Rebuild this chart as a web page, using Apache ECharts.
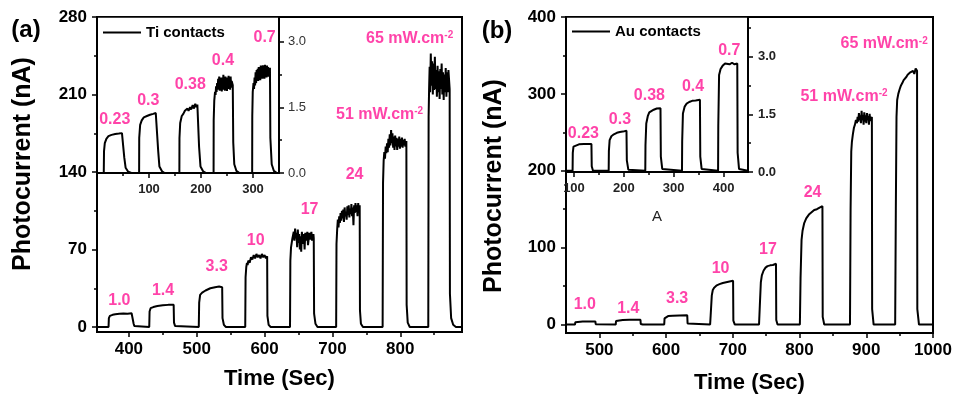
<!DOCTYPE html>
<html>
<head>
<meta charset="utf-8">
<script src="https://cdn.jsdelivr.net/npm/echarts@6.0.0/dist/echarts.min.js"></script>
<style>
  html, body { margin: 0; padding: 0; background: #fff; }
  #chart { width: 958px; height: 399px; }
</style>
</head>
<body>
<div id="chart"></div>
<script>
// (a) Ti contacts, main trace: [time (s), photocurrent (nA)]
const tiMain = [
  [353,0],[370,0],[370.5,8],[372,10],[376,11],[380,11.5],[386,12],[392,12.3],[398,12],[404,12.4],[406.5,12.2],[407,3],[408,1],[410,0],
  [430,0],[430.5,14],[432,17],[436,18],[442,19],[450,19.6],[458,20],[466,20.2],[466.5,4],[468,1],[470,0],
  [503,0],[503.6,22],[505,29],[508,31],[513,33],[520,35],[527,36],[533,36.5],[537.5,36],[538,8],[540,2],[543,0],
  [571.5,0],[572,45],[573,54],[574,58],[575,56],[576,60],[578,58],[580,63],[582,61],[584,65],[586,62],[588,66],[590,63],[592,65],[594,62],[596,66],[598,63],[600,65],[602,62],[603.8,64],[604.2,10],[606,2],[609,0],
  [637.5,0],[638,60],[639,72],[641,80],[643,86],[644,78],[645,89],[646,80],[647,85],[648,72],[649,88],[650,76],[651,84],[652,70],[653,82],[654,68],[655,86],[656,75],[658,84],[659,70],[660,85],[662,78],[663,86],[664,74],[666,85],[667,79],[669,86],[670,78],[672,84],[672.5,80],[673,12],[675,3],[678,0],
  [705.5,0],[706,75],[707,88],[708,97],[709,90],[710,100],[711,94],[712,103],[713,96],[714,105],[715,98],[716,106],[717,95],[718,108],[719,100],[720,104],[721,97],[722,109],[723,101],[724,110],[725,99],[726,107],[727,102],[728,111],[729,100],[730,108],[731,92],[732,110],[733,103],[734,112],[735,104],[736,110],[737,100],[738,112],[739,105],[740.2,110],[740.6,15],[742,3],[745,0],
  [774,0],[774.6,130],[775.5,150],[776.5,158],[777.5,152],[778.5,163],[779.5,157],[780.5,166],[781.5,158],[782.5,170],[783.5,162],[784.5,174],[785.5,164],[786.5,178],[787.5,166],[788.5,175],[789.5,162],[790.5,172],[791.5,160],[792.5,173],[793.5,163],[794.5,171],[795.5,160],[796.5,170],[797.5,163],[798.5,172],[799.5,161],[800.5,170],[801.5,163],[802.5,171],[803.5,162],[804.5,169],[805.5,164],[806.5,170],[807.5,163],[809,168],[809.4,20],[811,4],[814,0],
  [841.3,0],[841.8,190],[842.5,215],[843.3,235],[844,212],[845,247],[846,218],[847,240],[848,210],[849,238],[850,214],[851,244],[852,215],[853,232],[854,208],[855,236],[856,212],[857,231],[858,206],[859,233],[860,215],[861,238],[862,210],[863,230],[864,205],[865,228],[866,212],[867,234],[868,208],[869,230],[870,212],[871,232],[872.8,215],[873.2,30],[875,8],[878,2],[882,0],[891,0]
];

// (a) inset trace: [time (s), photocurrent (nA)]
const tiInset = [
  [0,0],[13,0],[13.5,0.5],[15,0.68],[18,0.78],[22,0.84],[28,0.87],[35,0.89],[42,0.9],[48,0.91],[51.6,0.92],[52.5,0.35],[55,0.12],[60,0.03],[66,0],
  [81,0],[81.2,0.8],[83,1.1],[86,1.2],[90,1.27],[96,1.3],[102,1.33],[108,1.35],[113,1.37],[116.8,1.38],[117.7,0.5],[120,0.15],[125,0.04],[130,0],
  [158.4,0],[158.6,0.8],[160,1.14],[163,1.3],[166,1.35],[169,1.42],[171,1.38],[174,1.47],[176,1.42],[179,1.5],[181,1.45],[184,1.55],[186,1.47],[189,1.58],[191,1.5],[193,1.56],[195.4,1.52],[196.3,0.6],[199,0.15],[204,0.04],[210,0],
  [224.2,0],[224.4,1.2],[225.5,1.65],[227,1.85],[228,1.78],[229,1.98],[230,1.85],[231,2.05],[232,1.9],[233,2.15],[234,1.92],[235,2.2],[236,1.88],[237,2.1],[238,1.9],[239,2.18],[240,1.86],[241,2.12],[242,1.9],[243,2.24],[244,1.95],[245,2.15],[246,1.88],[247,2.2],[248,1.92],[249,2.1],[250,1.87],[251,2.18],[252,1.92],[253,2.22],[254,1.95],[255,2.12],[256,1.9],[257,2.2],[258,1.95],[259,2.1],[261.1,2.0],[262,0.7],[264,0.2],[268,0.05],[274,0],
  [298.4,0],[298.6,1.3],[299.5,1.85],[301,2.05],[302,1.92],[303,2.18],[304,2.0],[305,2.3],[306,2.05],[307,2.35],[308,2.12],[309,2.38],[310,2.1],[311,2.42],[312,2.15],[313,2.38],[314,2.12],[315,2.45],[316,2.18],[317,2.42],[318,2.15],[319,2.46],[320,2.2],[321,2.42],[322,2.15],[323,2.47],[324,2.2],[325,2.44],[326,2.18],[327,2.45],[328,2.22],[329,2.42],[330,2.2],[332.6,2.4],[333.4,0.8],[336,0.2],[340,0.05],[346,0],[350,0]
];

// (b) Au contacts, main trace
const auMain = [
  [450,0],[463.5,0],[464,3],[466,3.7],[475,3.9],[485,4],[494,4],[494.5,0.5],[497,0],
  [524.5,0],[525,4.5],[527,5.4],[535,5.9],[545,6.1],[555,6.2],[561.6,6.2],[562,0.8],[565,0],
  [597.2,0],[597.7,8],[599,10],[603,11],[610,11.5],[620,11.8],[631.7,12],[632.2,1.5],[635,0],
  [666,0],[667,15],[668.5,38],[670,45],[672,48],[676,51],[680,52.5],[685,54],[690,55],[695,56],[700.4,57],[700.8,5],[703,0],
  [739.3,0],[740.5,25],[742,55],[743.5,64],[746,70],[749,74],[752,76],[756,77],[760,77.5],[764.7,79],[765.1,6],[767,0],
  [800.5,0],[801.5,60],[803,110],[804.5,122],[807,132],[810,138],[814,143],[818,146],[822,149],[826,150],[830,152],[834.3,154],[834.7,10],[837,0],
  [875.6,0],[876.5,150],[877.5,225],[878.5,238],[880,248],[881.5,256],[883,260],[884.5,266],[886,262],[887,270],[888,264],[889,275],[890,266],[891,272],[892,262],[893,278],[894,266],[895,272],[896,260],[897,276],[898,264],[899,272],[900,262],[901,275],[902,266],[903,271],[904,260],[905,274],[906,265],[908.4,270],[908.8,20],[911,0],
  [943.3,0],[944.3,150],[945.3,270],[946.3,292],[948,300],[950,306],[952,311],[954,314],[956,318],[958,320],[960,322],[962,325],[964,324],[966,328],[968,327],[970,330],[972,326],[974,333],[976.1,330],[976.5,20],[979,0],[1000,0]
];

// (b) inset trace
const auInset = [
  [84,0.03],[97.2,0.03],[97.6,0.5],[99,0.66],[103,0.7],[110,0.72],[120,0.73],[130,0.73],[135,0.73],[135.6,0.15],[138,0.04],
  [169.6,0.03],[170,0.55],[171.5,0.83],[175,0.93],[180,0.98],[186,1.02],[192,1.04],[198,1.05],[205.3,1.07],[206,0.3],[209,0.06],[213,0.03],
  [243,0.03],[243.4,0.7],[245,1.26],[248,1.45],[251,1.55],[255,1.6],[260,1.62],[266,1.65],[273.5,1.66],[274.2,0.4],[277,0.08],[281,0.03],
  [316.6,0.03],[317,0.8],[318.5,1.52],[322,1.7],[326,1.78],[331,1.82],[337,1.85],[344,1.86],[352.6,1.88],[353.3,0.4],[356,0.08],[360,0.03],
  [389,0.03],[389.4,1.2],[391,2.52],[394,2.68],[398,2.76],[403,2.82],[407,2.86],[412,2.8],[417,2.84],[422,2.8],[427.5,2.82],[428.2,0.5],[431,0.08],[435,0.03],[449,0.03]
];

// intensity annotations: [time, value, text]
const tiMainNotes = [[386,23.5,'1.0'],[450.4,32.7,'1.4'],[529.4,54.8,'3.3'],[587,77.9,'10'],[666.4,106.4,'17'],[732.7,137.3,'24'],[769.5,192,'51 mW.cm-2'],[813.8,260.4,'65 mW.cm-2']];
const tiInsetNotes = [[34.2,1.22,'0.23'],[98.6,1.65,'0.3'],[179.3,2.01,'0.38'],[242.2,2.57,'0.4'],[322.4,3.08,'0.7']];
const auMainNotes = [[478.2,25.4,'1.0'],[543.3,21.1,'1.4'],[616.5,33.5,'3.3'],[681.7,73.3,'10'],[752.6,96.9,'17'],[819.5,171.8,'24'],[866.6,297,'51 mW.cm-2'],[926.8,364.8,'65 mW.cm-2']];
const auInsetNotes = [[118.9,1.01,'0.23'],[192.2,1.36,'0.3'],[251.2,1.99,'0.38'],[338.8,2.23,'0.4'],[411.4,3.15,'0.7']];

// ticks
const tiMainXTicks = [400,500,600,700,800];
const tiMainXMinor = [450,550,650,750,850];
const tiMainYTicks = [0,70,140,210,280];
const tiMainYMinor = [35,105,175,245];
const tiInsetXTicks = [100,200,300];
const tiInsetXMinor = [50,150,250];
const tiInsetYTicks = [0,1.5,3];
const tiInsetYMinor = [0.75,2.25];
const auMainXTicks = [500,600,700,800,900,1000];
const auMainXMinor = [550,650,750,850,950];
const auMainYTicks = [0,100,200,300,400];
const auMainYMinor = [50,150,250,350];
const auInsetXTicks = [100,200,300,400];
const auInsetXMinor = [150,250,350];
const auInsetYTicks = [0,1.5,3];
const auInsetYMinor = [0.75,2.25,3.75];

const FONT = '"Liberation Sans", Arial, sans-serif';
const PINK = '#ff1493';

const chart = echarts.init(document.getElementById('chart'), null, { renderer: 'canvas' });

const plain = (v) => String(v);
const fmt1 = (v) => v.toFixed(1);

function majorAxis(grid, min, max, ticks, position, label) {
  return {
    type: 'value', gridIndex: grid, min: min, max: max, position: position,
    axisLine: { show: true, onZero: false, lineStyle: { color: '#000', width: 2 } },
    axisTick: { show: true, customValues: ticks, length: 5, lineStyle: { color: '#000', width: 1.5 } },
    axisLabel: Object.assign({ customValues: ticks, fontFamily: FONT, hideOverlap: false, formatter: plain }, label),
    splitLine: { show: false }
  };
}
function minorAxis(grid, min, max, ticks, position) {
  return {
    type: 'value', gridIndex: grid, min: min, max: max, position: position,
    axisLine: { show: false, onZero: false },
    axisTick: { show: true, customValues: ticks, length: 3, lineStyle: { color: '#000', width: 1.5 } },
    axisLabel: { show: false },
    splitLine: { show: false }
  };
}

const mainLabel = { fontSize: 17, fontWeight: 'bold', color: '#000', margin: 9 };
const insetXLabel = { fontSize: 13, fontWeight: 'bold', color: '#222', margin: 10 };

const xName = (gap) => ({
  name: 'Time (Sec)', nameLocation: 'middle', nameGap: gap,
  nameTextStyle: { fontSize: 22, fontWeight: 'bold', color: '#000', fontFamily: FONT }
});

const xAxis = [
  Object.assign(majorAxis(0, 353, 891, tiMainXTicks, 'bottom', mainLabel), xName(36)),
  minorAxis(0, 353, 891, tiMainXMinor, 'bottom'),
  majorAxis(1, 0, 350, tiInsetXTicks, 'bottom', insetXLabel),
  minorAxis(1, 0, 350, tiInsetXMinor, 'bottom'),
  Object.assign(majorAxis(2, 450, 1000, auMainXTicks, 'bottom', mainLabel), xName(39)),
  minorAxis(2, 450, 1000, auMainXMinor, 'bottom'),
  majorAxis(3, 84, 449, auInsetXTicks, 'bottom', insetXLabel),
  minorAxis(3, 84, 449, auInsetXMinor, 'bottom')
];

const yAxis = [
  majorAxis(0, -4.5, 280, tiMainYTicks, 'left', Object.assign({}, mainLabel, { margin: 10 })),
  minorAxis(0, -4.5, 280, tiMainYMinor, 'left'),
  majorAxis(1, 0, 3.56, tiInsetYTicks, 'right', { fontSize: 13, color: '#333', margin: 9, formatter: fmt1 }),
  minorAxis(1, 0, 3.56, tiInsetYMinor, 'right'),
  majorAxis(2, -11, 400, auMainYTicks, 'left', Object.assign({}, mainLabel, { margin: 10 })),
  minorAxis(2, -11, 400, auMainYMinor, 'left'),
  majorAxis(3, 0, 4.03, auInsetYTicks, 'right', { fontSize: 13, fontWeight: 'bold', color: '#222', margin: 10, formatter: fmt1 }),
  minorAxis(3, 0, 4.03, auInsetYMinor, 'right')
];

const grid = [
  { left: 97, top: 17, width: 365, height: 315, show: true, borderColor: '#000', borderWidth: 2, backgroundColor: 'transparent' },
  { left: 97, top: 17, width: 182, height: 156, show: true, borderColor: '#000', borderWidth: 1.5, backgroundColor: '#fff' },
  { left: 566, top: 17, width: 367, height: 316, show: true, borderColor: '#000', borderWidth: 2, backgroundColor: 'transparent' },
  { left: 566, top: 17, width: 182, height: 155, show: true, borderColor: '#000', borderWidth: 1.5, backgroundColor: '#fff' }
];

function trace(name, xi, yi, data) {
  return {
    type: 'line', name: name, xAxisIndex: xi, yAxisIndex: yi, data: data,
    showSymbol: false, symbol: 'none', clip: true,
    lineStyle: { color: '#000', width: 2 }, itemStyle: { color: '#000' },
    animation: false
  };
}
function notes(xi, yi, data) {
  return {
    type: 'scatter', xAxisIndex: xi, yAxisIndex: yi, silent: true, animation: false,
    symbolSize: 1, itemStyle: { color: 'rgba(0,0,0,0)' },
    data: data.map(d => ({ value: [d[0], d[1]], name: d[2] })),
    label: {
      show: true, position: 'inside', fontFamily: FONT, fontSize: 16, fontWeight: 'bold', color: PINK,
      formatter: (p) => p.name.replace(/cm-2$/, 'cm{sup|-2}'),
      rich: { sup: { fontSize: 10, fontWeight: 'bold', color: PINK, fontFamily: FONT, verticalAlign: 'top' } }
    }
  };
}

const series = [
  trace('Ti contacts', 0, 0, tiMain),
  trace('Ti contacts inset', 2, 2, tiInset),
  trace('Au contacts', 4, 4, auMain),
  trace('Au contacts inset', 6, 6, auInset),
  notes(0, 0, tiMainNotes),
  notes(2, 2, tiInsetNotes),
  notes(4, 4, auMainNotes),
  notes(6, 6, auInsetNotes)
];

const legendBase = {
  orient: 'horizontal', padding: 0, itemWidth: 38, itemHeight: 2, icon: 'rect', selectedMode: false,
  textStyle: { fontFamily: FONT, fontSize: 15, fontWeight: 'bold', color: '#000' }
};

const textEl = (x, y, text, font, rot) => ({
  type: 'text', x: x, y: y, rotation: rot || 0, silent: true,
  style: { text: text, font: font, fill: '#000', textAlign: 'center', textVerticalAlign: 'middle' }
});

const option = {
  animation: false,
  backgroundColor: '#fff',
  grid: grid,
  xAxis: xAxis,
  yAxis: yAxis,
  series: series,
  legend: [
    Object.assign({ data: ['Ti contacts'], left: 103, top: 25 }, legendBase),
    Object.assign({ data: ['Au contacts'], left: 572, top: 24 }, legendBase)
  ],
  graphic: [
    textEl(23, 164, 'Photocurrent (nA)', 'bold 25px "Liberation Sans", Arial', Math.PI / 2),
    textEl(494, 186, 'Photocurrent (nA)', 'bold 25px "Liberation Sans", Arial', Math.PI / 2),
    textEl(26, 30, '(a)', 'bold 24px "Liberation Sans", Arial'),
    textEl(497, 31, '(b)', 'bold 24px "Liberation Sans", Arial'),
    { type: 'text', x: 657, y: 217, silent: true,
      style: { text: 'A', font: '15px "Liberation Sans", Arial', fill: '#222', textAlign: 'center', textVerticalAlign: 'middle' } }
  ]
};

chart.setOption(option);
window.addEventListener('resize', () => chart.resize());
</script>
</body>
</html>
